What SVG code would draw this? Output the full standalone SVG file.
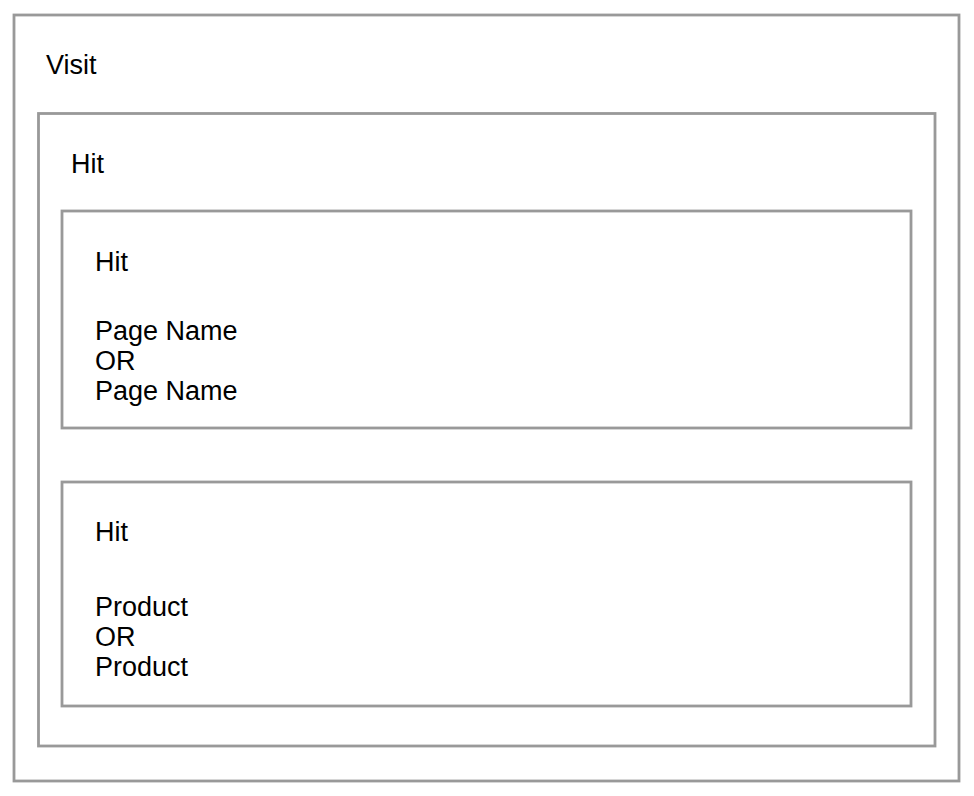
<svg xmlns="http://www.w3.org/2000/svg" width="974" height="796" viewBox="0 0 974 796">
<style>
.box{fill:#fff;stroke:#999;stroke-width:2.8}
.t{font-family:"Liberation Sans",Arial,sans-serif;font-size:27px;fill:#000}
</style>
<rect width="974" height="796" fill="#fff"/>
<g id="visit">
<rect class="box" x="14" y="15" width="945" height="766"/>
<text class="t" x="46" y="74">Visit</text>
</g>
<g id="hit-outer">
<rect class="box" x="38.5" y="113.5" width="896.5" height="632.5"/>
<text class="t" x="71" y="173">Hit</text>
</g>
<g id="hit-page">
<rect class="box" x="62" y="211" width="849" height="217"/>
<text class="t" x="95" y="271">Hit</text>
<text class="t" x="95" y="340">Page Name</text>
<text class="t" x="95" y="370">OR</text>
<text class="t" x="95" y="400">Page Name</text>
</g>
<g id="hit-product">
<rect class="box" x="62" y="482" width="849" height="224"/>
<text class="t" x="95" y="541">Hit</text>
<text class="t" x="95" y="616">Product</text>
<text class="t" x="95" y="646">OR</text>
<text class="t" x="95" y="676">Product</text>
</g>
<g id="connectors"></g>
</svg>
